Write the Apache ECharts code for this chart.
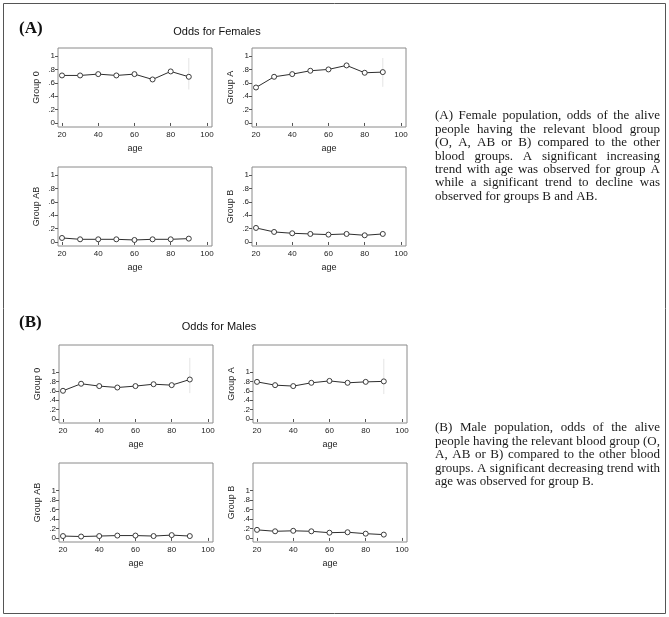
<!DOCTYPE html>
<html><head><meta charset="utf-8">
<script src="https://cdn.jsdelivr.net/npm/echarts@6/dist/echarts.min.js"></script>
<style>html,body{margin:0;padding:0;background:#fff}#c{width:669px;height:617px}</style>
</head><body><div id="c"></div>
<script>
// ---------- data ----------
const ages = [20, 30, 40, 50, 60, 70, 80, 90];
const xTicks = [20, 40, 60, 80, 100];
const yTicks = [0, 0.2, 0.4, 0.6, 0.8, 1];

const femaleGroup0  = [0.71, 0.71, 0.73, 0.71, 0.73, 0.65, 0.77, 0.69];
const femaleGroupA  = [0.53, 0.69, 0.73, 0.78, 0.80, 0.86, 0.75, 0.76];
const femaleGroupAB = [0.06, 0.04, 0.04, 0.04, 0.03, 0.04, 0.04, 0.05];
const femaleGroupB  = [0.21, 0.15, 0.13, 0.12, 0.11, 0.12, 0.10, 0.12];

const maleGroup0  = [0.60, 0.75, 0.70, 0.67, 0.70, 0.74, 0.72, 0.84];
const maleGroupA  = [0.79, 0.72, 0.70, 0.77, 0.81, 0.77, 0.79, 0.80];
const maleGroupAB = [0.04, 0.03, 0.04, 0.05, 0.05, 0.04, 0.06, 0.04];
const maleGroupB  = [0.17, 0.14, 0.15, 0.14, 0.11, 0.12, 0.09, 0.07];

// faint confidence bars at age 90 [low, high]
const femaleGroup0Bar90 = [0.50, 0.97];
const femaleGroupABar90 = [0.54, 0.97];
const maleGroup0Bar90   = [0.55, 1.30];
const maleGroupABar90   = [0.53, 1.28];

const femaleTitle = 'Odds for Females';
const maleTitle = 'Odds for Males';
const femaleCaption = [
  '(A) Female population, odds of the alive',
  'people having the relevant blood group',
  '(O, A, AB or B) compared to the other',
  'blood groups. A significant increasing',
  'trend with age was observed for group A',
  'while a significant trend to decline was',
  'observed for groups B and AB.'
];
const maleCaption = [
  '(B) Male population, odds of the alive',
  'people having the relevant blood group (O,',
  'A, AB or B) compared to the other blood',
  'groups. A significant decreasing trend with',
  'age was observed for group B.'
];

// ---------- layout ----------
const fY = {min: -0.06, max: 1.12};
const mY = {min: -0.085, max: 1.574};
const panels = [
  {name: 'Group 0',  data: femaleGroup0,  bar: femaleGroup0Bar90, left: 58,  top: 48,  h: 79, y: fY},
  {name: 'Group A',  data: femaleGroupA,  bar: femaleGroupABar90, left: 252, top: 48,  h: 79, y: fY},
  {name: 'Group AB', data: femaleGroupAB, bar: null,              left: 58,  top: 167, h: 79, y: fY},
  {name: 'Group B',  data: femaleGroupB,  bar: null,              left: 252, top: 167, h: 79, y: fY},
  {name: 'Group 0',  data: maleGroup0,    bar: maleGroup0Bar90,   left: 59,  top: 345, h: 78, y: mY},
  {name: 'Group A',  data: maleGroupA,    bar: maleGroupABar90,   left: 253, top: 345, h: 78, y: mY},
  {name: 'Group AB', data: maleGroupAB,   bar: null,              left: 59,  top: 463, h: 79, y: mY},
  {name: 'Group B',  data: maleGroupB,    bar: null,              left: 253, top: 463, h: 79, y: mY}
];
const PW = 154;
const sans = '"Liberation Sans", Arial, sans-serif';
const serif = '"Liberation Serif", "Times New Roman", serif';

function fmtY(v) {
  if (Math.abs(v) < 1e-9) return '0';
  if (Math.abs(v - 1) < 1e-9) return '1';
  return v.toFixed(1).replace(/^0/, '');
}

const grid = panels.map(p => ({left: p.left, top: p.top, width: PW, height: p.h, show: true,
  borderColor: '#8a8a8a', borderWidth: 1, backgroundColor: '#fff', containLabel: false}));

const xAxis = panels.map((p, i) => ({
  gridIndex: i, type: 'value', min: 17.8, max: 102.8,
  axisLine: {show: false},
  axisTick: {show: true, length: 3, customValues: xTicks, lineStyle: {color: '#555'}},
  axisLabel: {customValues: xTicks, fontSize: 8, color: '#222', margin: 4, fontFamily: sans},
  splitLine: {show: false},
  name: 'age', nameLocation: 'middle', nameGap: 17,
  nameTextStyle: {fontSize: 9, color: '#222', fontFamily: sans}
}));

const yAxis = panels.map((p, i) => ({
  gridIndex: i, type: 'value', min: p.y.min, max: p.y.max,
  axisLine: {show: false},
  axisTick: {show: true, length: 3, customValues: yTicks, lineStyle: {color: '#555'}},
  axisLabel: {customValues: yTicks, fontSize: 8, color: '#222', margin: 3, fontFamily: sans, formatter: fmtY},
  splitLine: {show: false},
  name: p.name, nameLocation: 'middle', nameGap: 17, nameRotate: 90,
  nameTextStyle: {fontSize: 9, color: '#222', fontFamily: sans}
}));

const series = [];
panels.forEach((p, i) => {
  if (p.bar) {
    series.push({
      type: 'custom', xAxisIndex: i, yAxisIndex: i, silent: true, z: 1,
      data: [[90, p.bar[0], p.bar[1]]],
      renderItem: (params, api) => {
        const a = api.coord([api.value(0), api.value(1)]);
        const b = api.coord([api.value(0), api.value(2)]);
        return {type: 'line', shape: {x1: a[0], y1: a[1], x2: b[0], y2: b[1]},
          style: {stroke: '#e4e4e4', lineWidth: 1}};
      }
    });
  }
  series.push({
    type: 'line', xAxisIndex: i, yAxisIndex: i, z: 3,
    data: ages.map((a, j) => [a, p.data[j]]),
    symbol: 'circle', symbolSize: 5, showSymbol: true,
    itemStyle: {color: '#fff', borderColor: '#3c3c3c', borderWidth: 1},
    lineStyle: {color: '#2e2e2e', width: 1},
    silent: true
  });
});

// ---------- justified captions ----------
const measureCtx = document.createElement('canvas').getContext('2d');
function captionElements(lines, x, y0, width, lineH, size) {
  const font = size + 'px ' + serif;
  measureCtx.font = font;
  const els = [];
  lines.forEach((line, li) => {
    const words = line.split(' ');
    const y = y0 + li * lineH;
    const widths = words.map(w => measureCtx.measureText(w).width);
    const total = widths.reduce((s, w) => s + w, 0);
    const last = li === lines.length - 1;
    const space = measureCtx.measureText(' ').width;
    let gap = (!last && words.length > 1) ? (width - total) / (words.length - 1) : space;
    let cx = x;
    words.forEach((w, k) => {
      els.push({type: 'text', x: cx, y: y, silent: true,
        style: {text: w, font: font, fill: '#1a1a1a', verticalAlign: 'middle'}});
      cx += widths[k] + gap;
    });
  });
  return els;
}

const graphic = [
  {type: 'rect', silent: true, shape: {x: 3.5, y: 3.5, width: 662, height: 610},
   style: {fill: 'none', stroke: '#555', lineWidth: 1}},
  {type: 'text', x: 19, y: 29, silent: true, style: {text: '(A)', font: 'bold 17px ' + serif, fill: '#111', verticalAlign: 'middle'}},
  {type: 'text', x: 19, y: 323, silent: true, style: {text: '(B)', font: 'bold 17px ' + serif, fill: '#111', verticalAlign: 'middle'}},
  {type: 'text', x: 217, y: 32, silent: true, style: {text: femaleTitle, font: '11px ' + sans, fill: '#111', align: 'center', verticalAlign: 'middle'}},
  {type: 'text', x: 219, y: 327, silent: true, style: {text: maleTitle, font: '11px ' + sans, fill: '#111', align: 'center', verticalAlign: 'middle'}}
].concat(captionElements(femaleCaption, 435, 116, 225, 13.4, 13))
 .concat(captionElements(maleCaption, 435, 428, 225, 13.4, 13));

const chart = echarts.init(document.getElementById('c'), null, {renderer: 'canvas'});
chart.setOption({animation: false, backgroundColor: '#fff', grid, xAxis, yAxis, series, graphic});
</script></body></html>
